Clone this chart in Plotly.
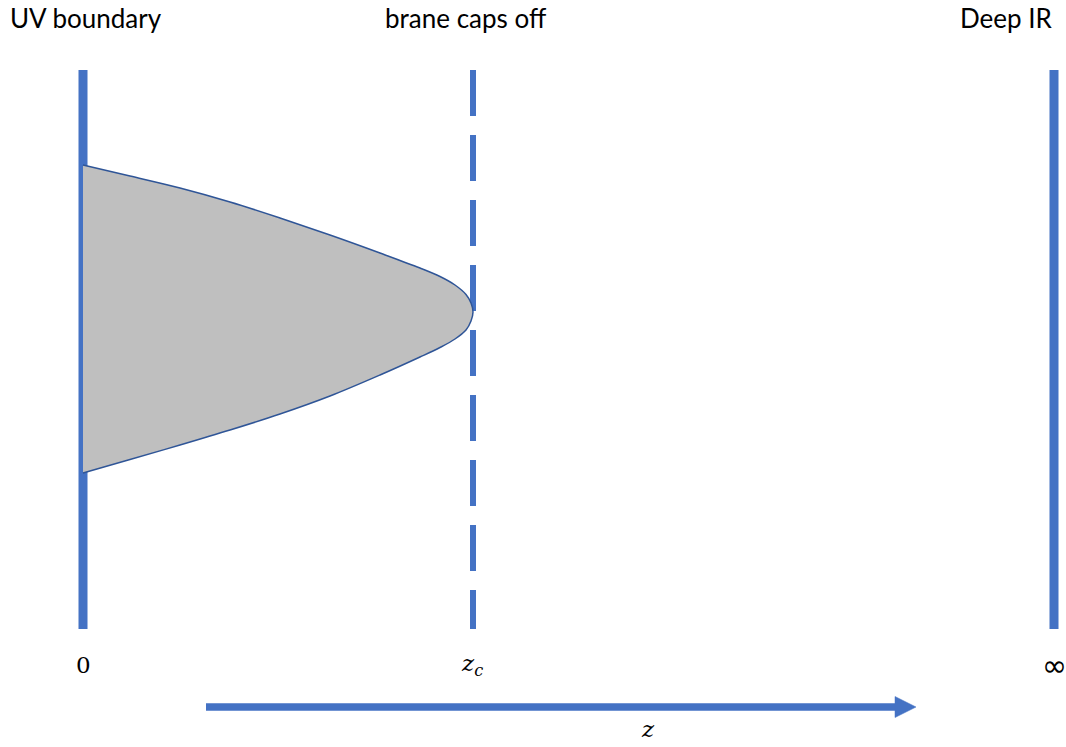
import plotly.graph_objects as go

# ---- data (diagram coordinates, in canvas pixel units) ----
boundary_names = ["UV boundary", "brane caps off", "Deep IR"]
boundary_x = [83, 473, 1054]
boundary_dash = ["solid", "46px,19px", "solid"]
boundary_width = [9, 6, 9]
line_y = [70, 629]

label_x = [8, 466, 1055]
label_anchor = ["left", "center", "right"]

tick_labels = ["0", "<i>z</i><sub><i>c</i></sub>", "∞"]
tick_x = [83, 472, 1054]
tick_size = [23, 23, 30]
tick_font = ["DejaVu Serif", "DejaVu Serif", "DejaVu Sans"]

upper_x = [83, 130, 180, 230, 280, 330, 380, 420, 440, 455, 466, 471, 473]
upper_y = [165, 176, 188, 202, 218, 235, 253, 268, 276.5, 285, 294.5, 303, 312]
lower_x = [471, 466, 455, 440, 420, 380, 330, 280, 230, 180, 130, 83]
lower_y = [321, 330, 339, 347.5, 357, 375, 396, 414, 430, 445, 459.5, 473]

arrow_x = [206, 916]
arrow_y = 707
arrow_label = "<i>z</i>"

BLUE = "#4472C4"
fig = go.Figure()

for bx, dash, w in zip(boundary_x, boundary_dash, boundary_width):
    fig.add_trace(go.Scatter(x=[bx, bx], y=line_y, mode="lines",
                             line=dict(color=BLUE, width=w, dash=dash),
                             hoverinfo="skip", showlegend=False))

shape_x = upper_x + lower_x
shape_y = upper_y + lower_y
fig.add_trace(go.Scatter(x=shape_x, y=shape_y, mode="lines", fill="toself",
                         fillcolor="#BFBFBF",
                         line=dict(color="#2F5597", width=1.5, shape="spline", smoothing=1.0),
                         hoverinfo="skip", showlegend=False))

# arrow shaft and head
head_len = 21
fig.add_trace(go.Scatter(x=[arrow_x[0], arrow_x[1] - head_len + 1], y=[arrow_y, arrow_y],
                         mode="lines", line=dict(color=BLUE, width=7.5),
                         hoverinfo="skip", showlegend=False))
fig.add_trace(go.Scatter(x=[arrow_x[1] - head_len, arrow_x[1], arrow_x[1] - head_len, arrow_x[1] - head_len],
                         y=[arrow_y - 10.5, arrow_y, arrow_y + 10.5, arrow_y - 10.5],
                         mode="lines", fill="toself", fillcolor=BLUE,
                         line=dict(color=BLUE, width=0.5),
                         hoverinfo="skip", showlegend=False))

# top labels
for name, lx, xa in zip(boundary_names, label_x, label_anchor):
    fig.add_annotation(x=lx, y=18, text=name, showarrow=False, xanchor=xa, yanchor="middle",
                       font=dict(family="Lato", size=26, color="#000000"))

for tx, t, ts, tf in zip(tick_x, tick_labels, tick_size, tick_font):
    fig.add_annotation(x=tx, y=665, text=t, showarrow=False,
                       xanchor="center", yanchor="middle",
                       font=dict(family=tf, size=ts, color="#000000"))

fig.add_annotation(x=648, y=729, text=arrow_label, showarrow=False, xanchor="center", yanchor="middle",
                   font=dict(family="DejaVu Serif", size=23, color="#000000"))

fig.update_layout(width=1066, height=747, margin=dict(l=0, r=0, t=0, b=0),
                  paper_bgcolor="white", plot_bgcolor="white",
                  xaxis=dict(range=[0, 1066], visible=False, fixedrange=True),
                  yaxis=dict(range=[747, 0], visible=False, fixedrange=True))

fig.write_html("out.html", config={"displayModeBar": False},
               post_script="document.body.style.margin='0';document.body.style.overflow='hidden';")
